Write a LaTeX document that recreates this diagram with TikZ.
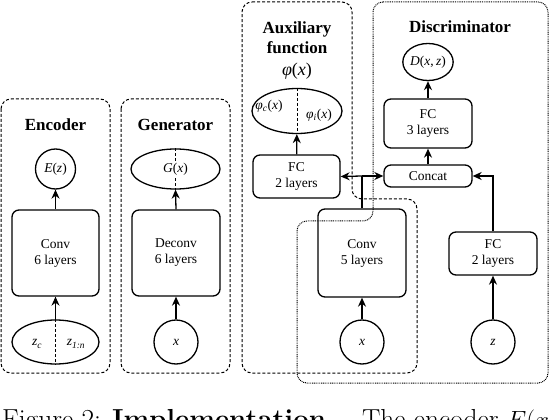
\documentclass[tikz,border=0pt]{standalone}
\usepackage{fontspec}
\newfontfamily\tnr{Liberation Serif}
\usetikzlibrary{shapes.geometric,arrows.meta}
\tikzset{
  blk/.style={draw,line width=1.3pt,rounded corners=7pt,align=center,inner sep=0pt,
    font=\tnr\fontsize{13.5}{16}\selectfont},
  circ/.style={draw,line width=1.3pt,circle,inner sep=0pt,minimum size=44pt,
    font=\tnr\fontsize{13.5}{16}\selectfont},
  ell/.style={draw,line width=1.3pt,ellipse,inner sep=0pt,
    font=\tnr\fontsize{13.5}{16}\selectfont},
  ttl/.style={font=\tnr\bfseries\fontsize{17}{19}\selectfont,inner sep=0pt},
  lbl/.style={font=\tnr\fontsize{13.5}{16}\selectfont,inner sep=0pt},
  conn/.style={line width=1.3pt,-{Stealth[length=9pt,width=8pt]}},
  wire/.style={line width=1.3pt},
  region/.style={line width=1pt,dash pattern=on 3pt off 2pt,rounded corners=10pt},
  dregion/.style={line width=1pt,dash pattern=on 0.9pt off 0.9pt,rounded corners=10pt},
  split/.style={line width=0.9pt,dash pattern=on 3pt off 2pt}
}
\begin{document}
\begin{tikzpicture}[x=1pt,y=-1pt]
\useasboundingbox (0,0) rectangle (550,420);
\clip (0,0) rectangle (550,420);

% regions
\draw[region] (1,99) rectangle (110,373);
\draw[region] (121,99) rectangle (230,373);
\draw[region] (242,2) -- (352,2) -- (352,199) -- (417,199) -- (417,373) -- (242,373) -- cycle;
\draw[dregion] (373,2) -- (548,2) -- (548,383) -- (297,383) -- (297,221) -- (373,221) -- cycle;

% titles
\node[ttl] (tenc) at (55.5,125) {Encoder};
\node[ttl] (tgen) at (175.5,125) {Generator};
\node[ttl] (taux1) at (297,29) {Auxiliary};
\node[ttl] (taux2) at (297,48) {function};
\node[ttl,font=\tnr\fontsize{18}{19}\selectfont] (taux3) at (297,71) {\textit{φ}(\textit{x})};
\node[ttl] (tdis) at (460,27) {Discriminator};

% encoder
\node[circ,minimum size=40pt] (Ez) at (55.5,169) {\textit{E}(\textit{z})};
\node[blk,minimum width=87pt,minimum height=86pt] (encconv) at (55.5,253) {Conv\\6 layers};
\node[ell,minimum width=87pt,minimum height=44pt] (zin) at (55.5,342) {};
\draw[split] (zin.north) -- (zin.south);
\node[lbl] (zc) at (37,344) {\textit{z}\textsubscript{\textit{c}}};
\node[lbl] (zn) at (76,344) {\textit{z}\textsubscript{\textit{1:n}}};

% generator
\node[ell,minimum width=89pt,minimum height=40pt] (Gx) at (175.5,169) {};
\draw[split] (Gx.north) -- (Gx.south);
\node[lbl,fill=white,inner sep=0.5pt] (Gxl) at (175.5,169) {\textit{G}(\textit{x})};
\node[blk,minimum width=88pt,minimum height=86pt] (deconv) at (176,253) {Deconv\\6 layers};
\node[circ] (xg) at (176,342) {\textit{x}};

% auxiliary
\node[ell,minimum width=90pt,minimum height=45pt] (phi) at (297,111) {};
\draw[split] (phi.north) -- (phi.south);
\node[lbl] (phic) at (269,106) {\textit{φ}\textsubscript{\textit{c}}(\textit{x})};
\node[lbl] (phii) at (319,115) {\textit{φ}\textsubscript{\textit{i}}(\textit{x})};
\node[blk,minimum width=87pt,minimum height=43pt] (auxfc) at (296.5,176.5) {FC\\2 layers};

% discriminator
\node[ell,minimum width=46pt,minimum height=37pt] (D) at (428,62) {\textit{D}(\textit{x},\,\textit{z})};
\node[blk,minimum width=88pt,minimum height=49pt] (fc3) at (428,123.5) {FC\\3 layers};
\node[blk,minimum width=88pt,minimum height=22pt] (concat) at (428,176) {Concat};
\node[blk,minimum width=88pt,minimum height=88pt] (conv5) at (362,253) {Conv\\5 layers};
\node[circ] (xd) at (362,342) {\textit{x}};
\node[blk,minimum width=88pt,minimum height=43pt] (fc2d) at (493,253.5) {FC\\2 layers};
\node[circ] (zd) at (493,342) {\textit{z}};

% connectors
\draw[conn] (zin) -- (encconv);
\draw[conn] (encconv) -- (Ez);
\draw[conn] (xg) -- (deconv);
\draw[conn] (deconv.north) -- (Gx.south);
\draw[conn] (auxfc) -- (phi);
\draw[conn] (xd) -- (conv5);
\coordinate (J) at (362,176);
\draw[wire] (conv5.north) -- (J);
\draw[conn] (J) -- (auxfc.east);
\draw[conn] (J) -- (concat.west);
\draw[conn] (zd) -- (fc2d);
\draw[conn] (fc2d.north) |- (concat.east);
\draw[conn] (concat) -- (fc3);
\draw[conn] (fc3) -- (D);

% caption (cut off at the bottom, as in the reference)
\node[anchor=base west,inner sep=0pt,font=\fontsize{27.5}{30}\selectfont] (cap) at (2,428)
  {Figure 2: \textbf{Implementation.}\quad The encoder $E(x)$};
\end{tikzpicture}
\end{document}
